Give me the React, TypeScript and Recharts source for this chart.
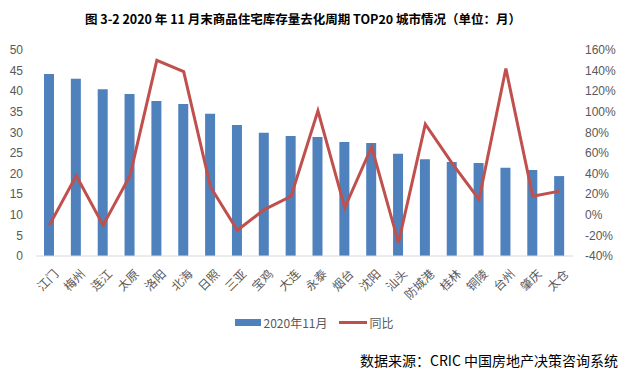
import React from "react";
import { ComposedChart, Bar, Line, XAxis, YAxis, Legend } from "recharts";

const cities = ["江门", "梅州", "连江", "太原", "洛阳", "北海", "日照", "三亚", "宝鸡", "大连", "永泰", "烟台", "沈阳", "汕头", "防城港", "桂林", "铜陵", "台州", "肇庆", "太仓"];
const stockMonths = [44.2, 43.0, 40.5, 39.3, 37.6, 36.9, 34.5, 31.8, 29.9, 29.1, 28.9, 27.7, 27.4, 24.8, 23.5, 22.8, 22.6, 21.4, 20.9, 19.4];
const yoyPct = [-10, 38, -10, 38, 150, 139, 27, -15, 5, 18, 101, 7, 66, -27, 88, 50, 15, 142, 18, 23];
const leftTicks = [0, 5, 10, 15, 20, 25, 30, 35, 40, 45, 50];
const rightTicks = [-40, -20, 0, 20, 40, 60, 80, 100, 120, 140, 160];

const barName = "2020年11月";
const lineName = "同比";
const titleText = "图 3-2 2020 年 11 月末商品住宅库存量去化周期 TOP20 城市情况（单位：月）";
const sourceText = "数据来源：CRIC 中国房地产决策咨询系统";

const data = cities.map((c, i) => ({ city: c, stock: stockMonths[i], yoy: yoyPct[i] }));

const BLUE = "#4F81BD";
const RED = "#C0504D";
const GRAY = "#595959";

const CityTick = (props: any) => {
  const { x, y, payload } = props;
  return (
    <g transform={`translate(${x + 7},${y + 8})`}>
      <text
        x={0}
        y={0}
        dy={4}
        textAnchor="end"
        transform="rotate(-45)"
        fill={GRAY}
        fontSize={12}
        fontFamily="'Noto Sans CJK SC', sans-serif"
      >
        {payload.value}
      </text>
    </g>
  );
};

const LegendContent = () => (
  <div
    style={{
      display: "flex",
      justifyContent: "center",
      alignItems: "center",
      fontFamily: "'Noto Sans CJK SC', sans-serif",
      fontSize: 12,
      color: GRAY,
      height: 0,
      overflow: "visible",
    }}
  >
    <span style={{ display: "inline-block", width: 26, height: 7, background: BLUE, marginRight: 3 }} />
    <span style={{ marginRight: 12 }}>{barName}</span>
    <span style={{ display: "inline-block", width: 28, height: 3, background: RED, marginRight: 2 }} />
    <span>{lineName}</span>
  </div>
);

export default function App() {
  return (
    <div style={{ position: "absolute", left: 0, top: 0, width: 628, height: 374, background: "#fff" }}>
      <div
        style={{
          position: "absolute",
          left: 0,
          top: 9,
          width: 606,
          textAlign: "center",
          fontFamily: "'Noto Sans CJK SC', sans-serif",
          fontWeight: "bold",
          fontSize: 12.5,
          color: "#000",
          whiteSpace: "nowrap",
        }}
      >
        {titleText}
      </div>
      <ComposedChart
        width={628}
        height={374}
        data={data}
        margin={{ top: 50, right: 0, bottom: 58, left: 0 }}
        barCategoryGap={0}
      >
        <XAxis
          dataKey="city"
          interval={0}
          tick={<CityTick />}
          tickLine={false}
          axisLine={{ stroke: "#D9D9D9" }}
          height={60}
        />
        <YAxis
          yAxisId="left"
          orientation="left"
          domain={[0, 50]}
          ticks={leftTicks}
          interval={0}
          width={36}
          axisLine={false}
          tickLine={false}
          tickSize={8}
          tickMargin={5}
          tick={{ fill: GRAY, fontSize: 12, fontFamily: "'Liberation Sans', sans-serif" }}
        />
        <YAxis
          yAxisId="right"
          orientation="right"
          domain={[-40, 160]}
          ticks={rightTicks}
          interval={0}
          width={55}
          axisLine={false}
          tickLine={false}
          tickSize={6}
          tickMargin={6}
          tickFormatter={(v: number) => `${v}%`}
          tick={{ fill: GRAY, fontSize: 12, fontFamily: "'Liberation Sans', sans-serif" }}
        />
        <Legend
          verticalAlign="bottom"
          content={<LegendContent />}
          wrapperStyle={{ position: "absolute", top: 322, left: 0, width: 628, height: 0 }}
        />
        <Bar yAxisId="left" dataKey="stock" name={barName} fill={BLUE} barSize={10} isAnimationActive={false} />
        <Line
          yAxisId="right"
          dataKey="yoy"
          name={lineName}
          stroke={RED}
          strokeWidth={3}
          dot={false}
          activeDot={false}
          type="linear"
          isAnimationActive={false}
        />
      </ComposedChart>
      <div
        style={{
          position: "absolute",
          right: 10,
          top: 350,
          fontFamily: "'Noto Sans CJK SC', sans-serif",
          fontSize: 14,
          color: "#000",
          whiteSpace: "nowrap",
        }}
      >
        {sourceText}
      </div>
    </div>
  );
}
